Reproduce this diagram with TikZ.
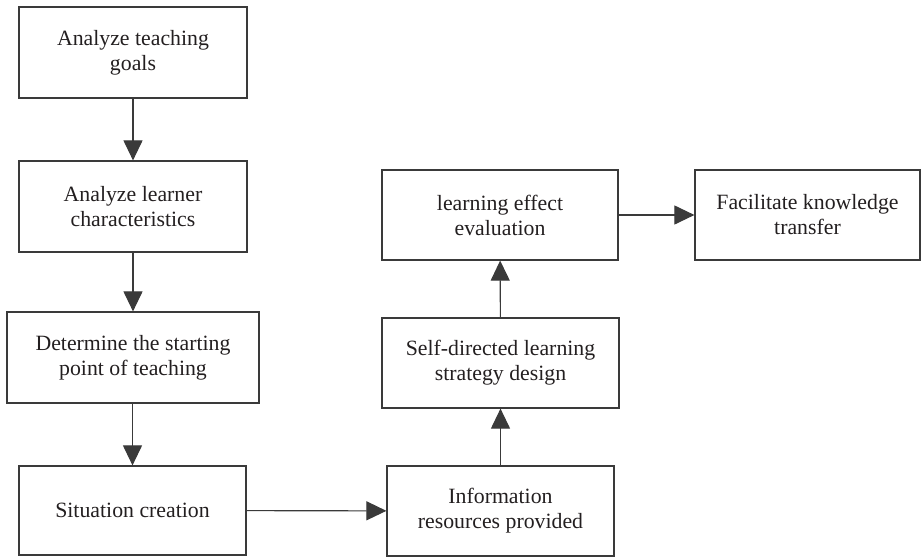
\documentclass[tikz,border=0pt]{standalone}
\usepackage{fontspec}
\setmainfont{Liberation Serif}
\usetikzlibrary{arrows.meta}
\definecolor{ink}{HTML}{231F20}
\definecolor{edge}{HTML}{3A3A3A}
\tikzset{
  box/.style={draw=edge, line width=1.2pt, inner sep=0pt, align=center, text=ink,
    font=\fontsize{21.8}{25}\selectfont},
  conn/.style={draw=edge, line width=1.1pt, -{Triangle[length=20pt,width=19pt]}}
}
\begin{document}
\begin{tikzpicture}[x=1pt,y=-1pt]
\useasboundingbox (0,0) rectangle (921,557);
\node[box, minimum width=228pt, minimum height=91pt] (b1) at (133,52.5) {Analyze teaching\\goals};
\node[box, minimum width=228pt, minimum height=91pt] (b2) at (133,206.5) {Analyze learner\\characteristics};
\node[box, minimum width=252pt, minimum height=91pt] (b3) at (133,357.5) {Determine the starting\\point of teaching};
\node[box, minimum width=227pt, minimum height=89pt] (b4) at (132.5,510.5) {Situation creation};
\node[box, minimum width=227pt, minimum height=90pt] (b5) at (500.5,511) {Information\\resources provided};
\node[box, minimum width=237pt, minimum height=90pt] (b6) at (500.5,363) {Self-directed learning\\strategy design};
\node[box, minimum width=236pt, minimum height=90pt] (b7) at (500,215) {learning effect\\evaluation};
\node[box, minimum width=225pt, minimum height=90pt] (b8) at (807.5,215) {Facilitate knowledge\\transfer};
\draw[conn] (b1) -- (b2);
\draw[conn] (b2) -- (b3);
\draw[conn] (b3.south -| b4.north) -- (b4.north);
\draw[conn] (b4) -- (b5);
\draw[conn] (b5) -- (b6);
\draw[conn] (b6) -- (b7);
\draw[conn] (b7) -- (b8);
\end{tikzpicture}
\end{document}
